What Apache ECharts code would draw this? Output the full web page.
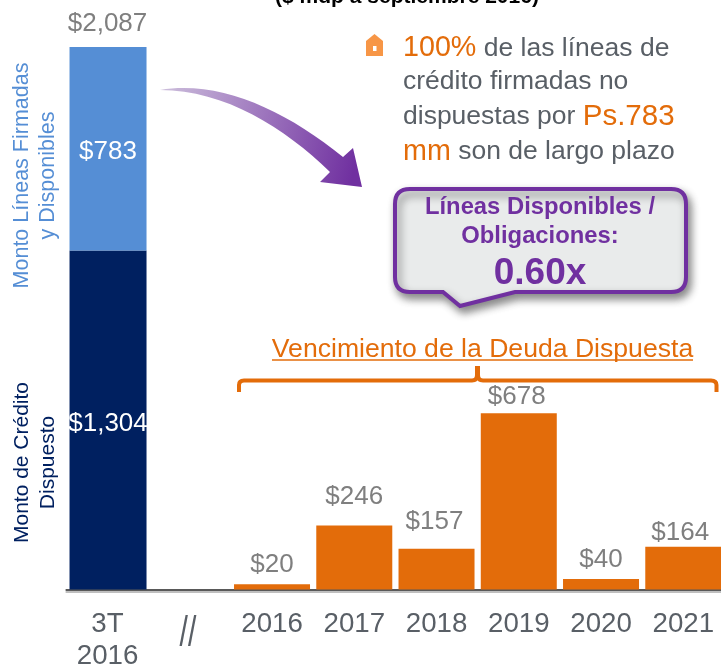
<!DOCTYPE html>
<html><head><meta charset="utf-8">
<style>html,body{margin:0;padding:0;background:#fff}#c{width:721px;height:665px}</style>
<script src="https://cdn.jsdelivr.net/npm/echarts@6/dist/echarts.min.js"></script>
</head><body><div id="c"></div>
<script>
const categories = ['3T\n2016', '//', '2016', '2017', '2018', '2019', '2020', '2021'];
const drawnTotal = [1304, null, null, null, null, null, null, null];
const availableLines = [783, null, null, null, null, null, null, null];
const maturities = [null, null, 20, 246, 157, 678, 40, 164];
const totals = [2087, null, null, null, null, null, null, null];
const maturityLabelGaps = [0, 0, 4, 14, 12, 1, 4, -1];
const maturityLabelShifts = [0, 0, 0, 0, -2, -2, 0, -3];

const FONT = '"Liberation Sans", Arial, sans-serif';
const ORANGE = '#E36C0A', PURPLE = '#7030A0', NAVY = '#002060', BLUE = '#558ED5', GREY = '#7F7F7F', SLATE = '#595F66';
const fmt = v => '$' + Number(v).toLocaleString('en-US');

echarts.graphic.registerShape('arrowShape', echarts.graphic.extendPath('M160 90 C220 80 285 110 343 157 L353 148 L362 187 L320 182 L330 172 C285 128 225 90 160 90 Z', {}));
echarts.graphic.registerShape('calloutShape', echarts.graphic.extendPath('M410 189 L671 189 Q686 189 686 204 L686 277 Q686 292 671 292 L515 292 L460 306 L443 292 L410 292 Q395 292 395 277 L395 204 Q395 189 410 189 Z', {}));
echarts.graphic.registerShape('bracketShape', echarts.graphic.extendPath('M239 392 L239 385 Q239 380.5 244 380.5 L472 380.5 Q477 380.5 477 375 L477 368 L478 368 L478 375 Q478 380.5 483 380.5 L711 380.5 Q716.5 380.5 716.5 385 L716.5 392', {}));

const chart = echarts.init(document.getElementById('c'), null, {renderer: 'canvas'});
const txt = (o) => ({type: 'text', silent: true, ...o});
chart.setOption({
  animation: false,
  backgroundColor: '#fff',
  textStyle: {fontFamily: FONT},
  grid: {left: 66.4, width: 658, top: 47, height: 542.5, containLabel: false, outerBoundsMode: 'none'},
  xAxis: {
    type: 'category', data: categories,
    axisLine: {onZero: false, lineStyle: {color: '#595959', width: 2, shadowColor: '#BFBFBF', shadowOffsetY: 2, shadowBlur: 0}},
    axisTick: {show: false},
    axisLabel: {
      interval: 0, color: SLATE, fontSize: 27.7, fontFamily: FONT, lineHeight: 32, margin: 18.5, verticalAlign: 'top',
      formatter: v => v === '//' ? '' : v
    }
  },
  yAxis: {type: 'value', min: 0, max: 2087, show: false, splitLine: {show: false}},
  series: [
    {name: 'Monto de Crédito Dispuesto', type: 'bar', stack: 'total', barWidth: 77, data: drawnTotal,
     itemStyle: {color: NAVY},
     label: {show: true, position: 'inside', offset: [0, 4], color: '#fff', fontSize: 26, fontFamily: FONT, formatter: p => fmt(p.value)},
     z: 2},
    {name: 'Monto Líneas Firmadas y Disponibles', type: 'bar', stack: 'total', barWidth: 77, data: availableLines,
     itemStyle: {color: BLUE},
     label: {show: true, position: 'inside', offset: [0, 3], color: '#fff', fontSize: 26, fontFamily: FONT, formatter: p => fmt(p.value)},
     z: 2},
    {name: 'Vencimiento de la Deuda Dispuesta', type: 'bar', barGap: '-100%', barWidth: 76,
     data: maturities.map((v, i) => v === null ? null : {
       value: v,
       label: {show: true, position: 'top', distance: 2 + maturityLabelGaps[i], offset: [maturityLabelShifts[i], 0], color: GREY, fontSize: 26, fontFamily: FONT, formatter: p => fmt(p.value)}
     }),
     itemStyle: {color: ORANGE},
     z: 2},
    {name: 'Total', type: 'line', data: totals, symbol: 'circle', symbolSize: 0, lineStyle: {opacity: 0},
     label: {show: true, position: 'top', distance: 10, color: GREY, fontSize: 26, fontFamily: FONT, formatter: p => p.value == null ? '' : fmt(p.value)},
     z: 3, silent: true}
  ],
  graphic: [
    txt({x: 407, y: -3, style: {text: '($ mdp a septiembre 2016)', font: 'bold 21px ' + FONT, fill: '#000', textAlign: 'center', textVerticalAlign: 'middle'}}),
    txt({x: 188, y: 634.5, scaleX: 0.72, style: {text: '//', font: '42px ' + FONT, fill: SLATE, textAlign: 'center', textVerticalAlign: 'middle'}}),
    txt({x: 35.5, y: 175.5, rotation: Math.PI / 2, style: {text: 'Monto Líneas Firmadas\ny Disponibles', font: '21.5px ' + FONT, lineHeight: 26, fill: BLUE, textAlign: 'center', textVerticalAlign: 'middle'}}),
    txt({x: 35.5, y: 462.5, rotation: Math.PI / 2, style: {text: 'Monto de Crédito\nDispuesto', font: '21px ' + FONT, lineHeight: 26, fill: NAVY, textAlign: 'center', textVerticalAlign: 'middle'}}),
    {type: 'polygon', silent: true, shape: {points: [[366,41],[374.5,34],[383,41],[383,56],[366,56]]}, style: {fill: '#F79646'}},
    {type: 'rect', silent: true, shape: {x: 373, y: 46, width: 3.5, height: 5}, style: {fill: '#fff'}},
    txt({x: 403, y: 48.5, style: {rich: {o: {fill: ORANGE, font: '28.7px ' + FONT}, g: {fill: SLATE, font: '26.5px ' + FONT}}, text: '{o|100%}{g| de las líneas de}', textVerticalAlign: 'middle'}}),
    txt({x: 403, y: 82, style: {text: 'crédito firmadas no', font: '26.5px ' + FONT, fill: SLATE, textVerticalAlign: 'middle'}}),
    txt({x: 403, y: 116.5, style: {rich: {o: {fill: ORANGE, font: '29.5px ' + FONT}, g: {fill: SLATE, font: '26.5px ' + FONT}}, text: '{g|dispuestas por }{o|Ps.783}', textVerticalAlign: 'middle'}}),
    txt({x: 403, y: 152, style: {rich: {o: {fill: ORANGE, font: '28.7px ' + FONT}, g: {fill: SLATE, font: '26.5px ' + FONT}}, text: '{o|mm}{g| son de largo plazo}', textVerticalAlign: 'middle'}}),
    {type: 'arrowShape', silent: true,
     style: {fill: new echarts.graphic.LinearGradient(0, 0, 1, 0.5, [{offset: 0, color: '#CDBFDC'}, {offset: 1, color: PURPLE}])}},
    {type: 'calloutShape', silent: true, z: 5,
     style: {fill: '#E9EBEB', stroke: PURPLE, lineWidth: 4, shadowBlur: 8, shadowColor: 'rgba(0,0,0,0.45)', shadowOffsetX: 3, shadowOffsetY: 5}},
    txt({x: 540, y: 207, z: 6, style: {text: 'Líneas Disponibles /', font: 'bold 23.8px ' + FONT, fill: PURPLE, textAlign: 'center', textVerticalAlign: 'middle'}}),
    txt({x: 540, y: 236, z: 6, style: {text: 'Obligaciones:', font: 'bold 23.8px ' + FONT, fill: PURPLE, textAlign: 'center', textVerticalAlign: 'middle'}}),
    txt({x: 540, y: 274, z: 6, style: {text: '0.60x', font: 'bold 37px ' + FONT, fill: PURPLE, textAlign: 'center', textVerticalAlign: 'middle'}}),
    txt({x: 482.5, y: 350, style: {text: 'Vencimiento de la Deuda Dispuesta', font: '26.6px ' + FONT, fill: ORANGE, textAlign: 'center', textVerticalAlign: 'middle'}}),
    {type: 'line', silent: true, shape: {x1: 272, y1: 360, x2: 693, y2: 360}, style: {stroke: ORANGE, lineWidth: 1.5}},
    {type: 'bracketShape', silent: true, style: {fill: 'none', stroke: ORANGE, lineWidth: 4}}
  ]
});
</script></body></html>
